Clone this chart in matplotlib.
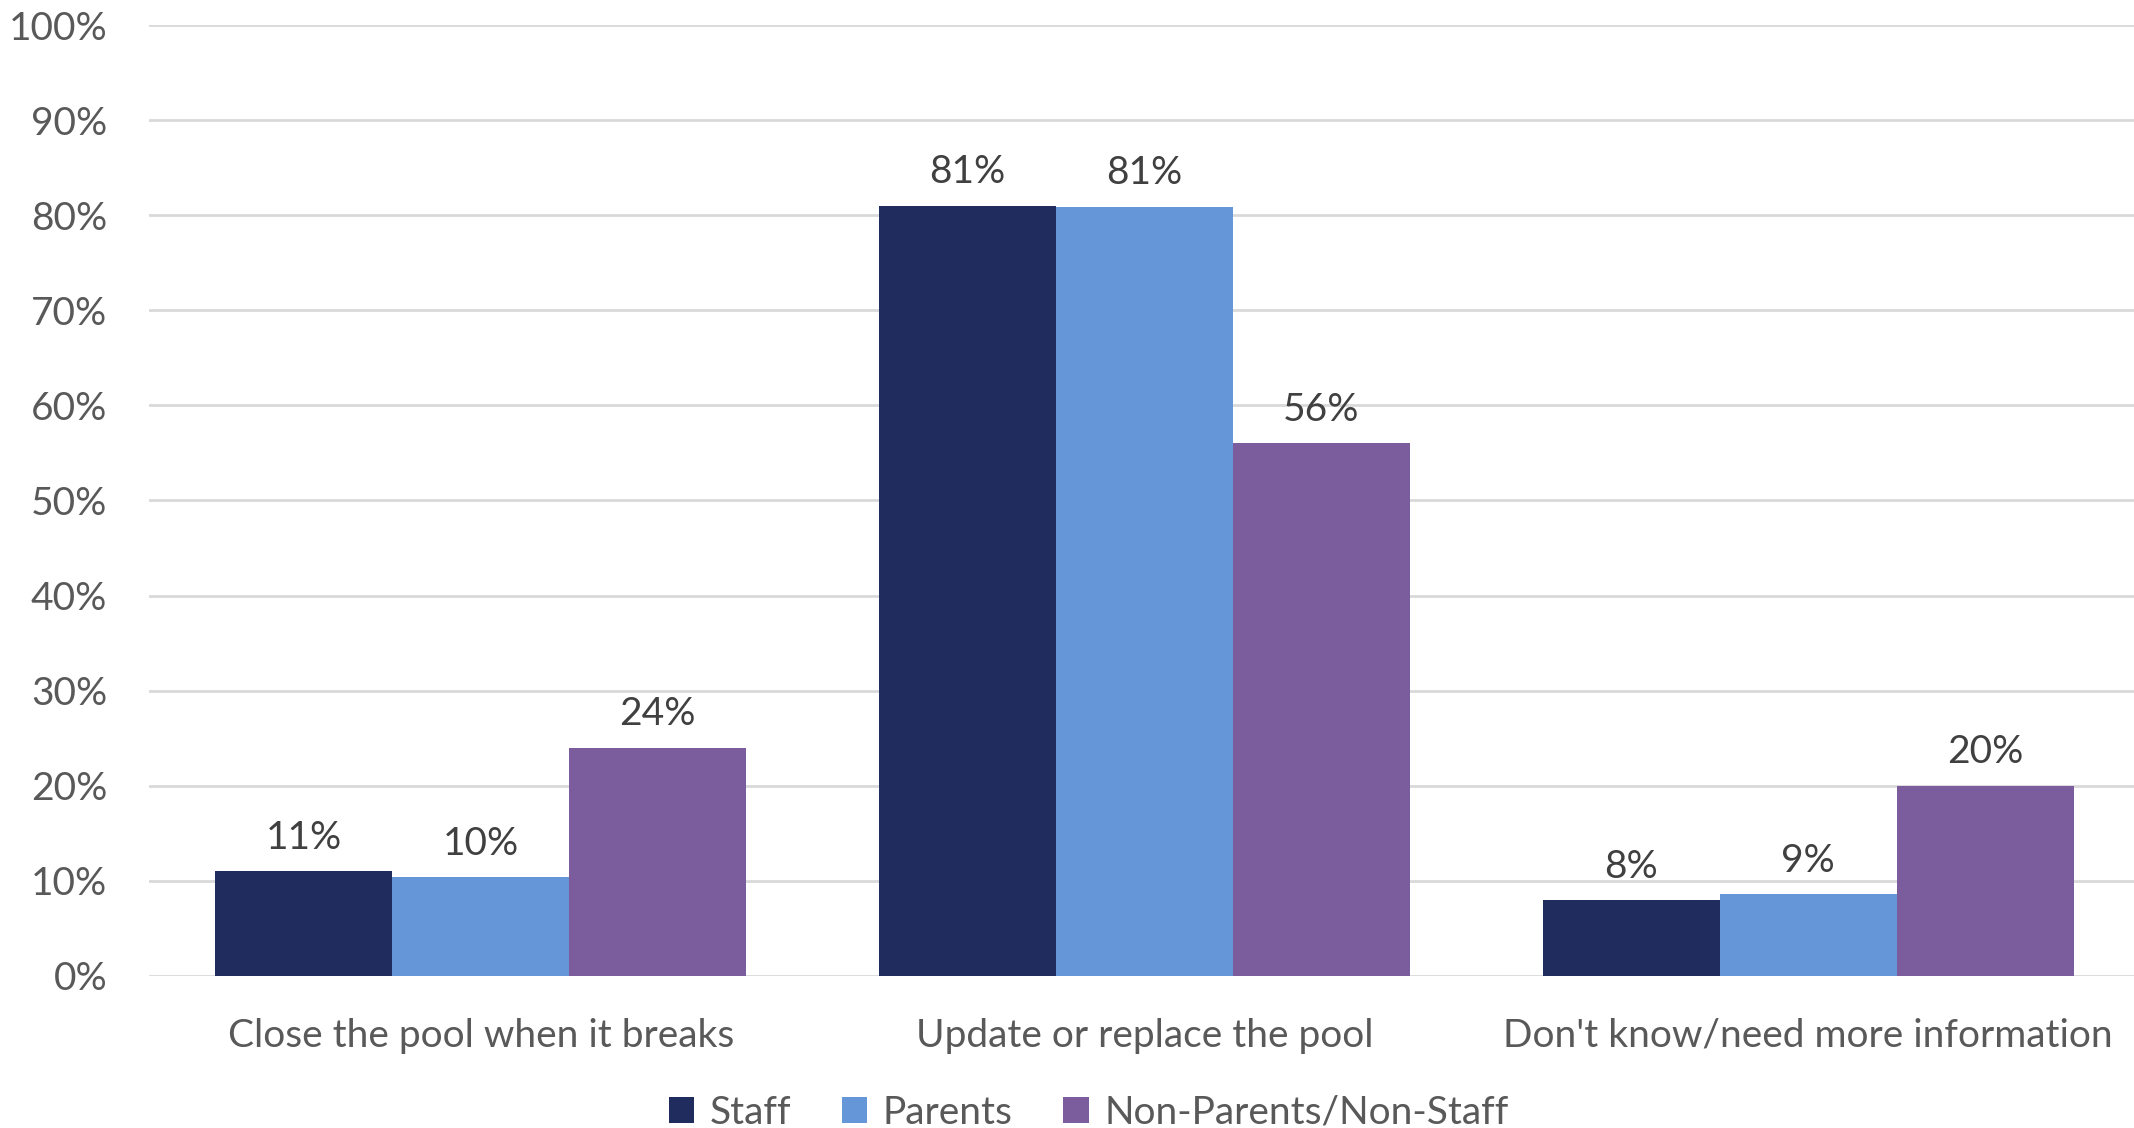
import numpy as np
import matplotlib.pyplot as plt
from matplotlib.ticker import PercentFormatter

categories = ['Close the pool when it breaks', 'Update or replace the pool',
              "Don't know/need more information"]
series = ['Staff', 'Parents', 'Non-Parents/Non-Staff']
staff = [11, 81, 8]
parents = [10.4, 80.9, 8.6]
non_parents = [24, 56, 20]
labels = [['11%', '81%', '8%'], ['10%', '81%', '9%'], ['24%', '56%', '20%']]
colors = ['#202B5E', '#6596D7', '#7B5C9C']

plt.rcParams['font.family'] = ['Lato', 'DejaVu Sans']

fig = plt.figure(figsize=(21.34, 11.28), dpi=100)
ax = fig.add_axes([0.0698, 0.1348, 0.933, 0.843])

x = np.arange(len(categories))
w = 0.8 / 3
for i, vals in enumerate([staff, parents, non_parents]):
    bars = ax.bar(x + (i - 1) * w, vals, w, color=colors[i], label=series[i], zorder=2)
    for b, t in zip(bars, labels[i]):
        ax.annotate(t, (b.get_x() + b.get_width() / 2, b.get_height()),
                    xytext=(0, 11), textcoords='offset points', ha='center', va='bottom',
                    fontsize=28, color='#404040')

ax.set_xlim(-0.5, 2.5)
ax.set_ylim(0, 100)
ax.set_yticks(np.arange(0, 101, 10))
ax.yaxis.set_major_formatter(PercentFormatter(decimals=0))
ax.set_xticks(x)
ax.set_xticklabels(categories)
ax.tick_params(axis='y', length=0, pad=30, labelsize=28, labelcolor='#595959')
ax.tick_params(axis='x', length=0, pad=30, labelsize=28, labelcolor='#595959')
ax.grid(axis='y', color='#D9D9D9', linewidth=2, zorder=0)
for s in ax.spines.values():
    s.set_visible(False)

ax.legend(loc='upper center', bbox_to_anchor=(0.472, -0.088), ncol=3, frameon=False,
          fontsize=28, labelcolor='#595959', handlelength=0.65, handleheight=0.65,
          handletextpad=0.4, columnspacing=1.3)

fig.savefig('out.png', dpi=100)
